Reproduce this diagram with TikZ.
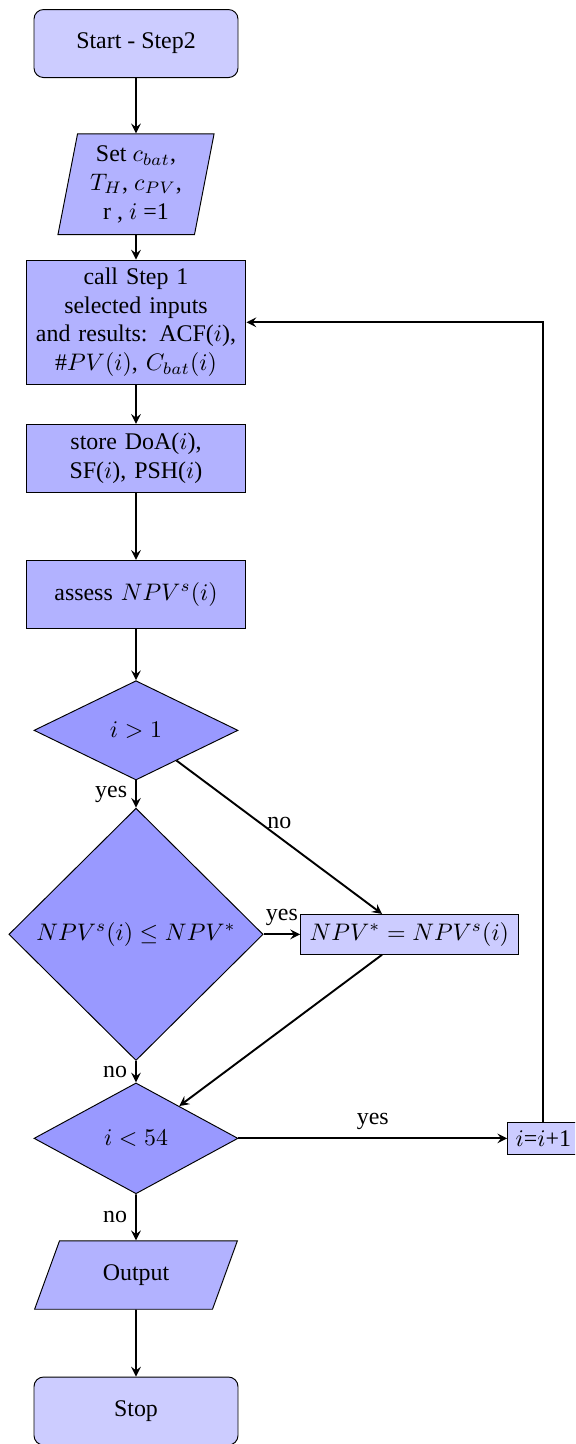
\documentclass[tikz,border=0pt]{standalone}
\usepackage{fontspec}
\setmainfont{Liberation Serif}
\usepackage{tikz}
\usetikzlibrary{shapes.geometric,arrows}

\begin{document}
\begin{tikzpicture}[
    startstop/.style={rectangle, rounded corners, minimum width=3cm, minimum height=1cm, align=center, draw=black, fill=blue!20},
    io/.style={trapezium, trapezium left angle=70, trapezium right angle=110, minimum width=3cm, minimum height=1cm, align=center, draw=black, fill=blue!30},
    process/.style={rectangle, text width=3cm, minimum height=1cm, align=center, draw=black, fill=blue!30},
    decision/.style={diamond, minimum width=3cm, minimum height=1.5cm, inner sep=0pt, align=center, draw=black, fill=blue!40},
    update/.style={rectangle, draw=black, fill=blue!20},
    arrow/.style={thick, ->, >=stealth}]
    \useasboundingbox (0, 0) rectangle (8.456, -21.235);
    \clip (0, 0) rectangle (8.456, -21.235);

    \node[startstop] (start) at (2, -0.64) {Start - Step2};
    \node[io, trapezium left angle=79, trapezium right angle=101, minimum width=2.3cm] (set) at (2, -2.71) {Set $c_{bat}$,\\ $T_H$, $c_{PV}$,\\ r , $i$ =1};
    \node[process] (call) at (2, -4.74) {call Step 1\\ selected inputs\\ and results: ACF($i$),\\ $\#PV(i)$, $C_{bat}(i)$};
    \node[process] (store) at (2, -6.74) {store DoA($i$),\\ SF($i$), PSH($i$)};
    \node[process] (assess) at (2, -8.74) {assess $NPV^s(i)$};
    \node[decision, minimum height=1.46cm] (larger) at (2, -10.74) {$i > 1$};
    \node[decision, minimum width=3.74cm, minimum height=3.71cm] (compare) at (2, -13.74) {$NPV^s(i) \leq NPV^*$};
    \node[update, minimum width=3.2cm] (best) at (6.02, -13.74) {$NPV^* = NPV^s(i)$};
    \node[decision, minimum height=1.63cm] (smaller) at (2, -16.74) {$i < 54$};
    \node[update] (next) at (7.99, -16.74) {$i$=$i$+1};
    \node[io] (output) at (2, -18.75) {Output};
    \node[startstop] (stop) at (2, -20.75) {Stop};

    \draw[arrow] (start) -- (set);
    \draw[arrow] (set) -- (call);
    \draw[arrow] (call) -- (store);
    \draw[arrow] (store) -- (assess);
    \draw[arrow] (assess) -- (larger);
    \draw[arrow] (larger) -- node[left] {yes} (compare);
    \draw[arrow] (larger) -- node[above] {no} (best);
    \draw[arrow] (compare) -- node[above] {yes} (best);
    \draw[arrow] (compare) -- node[left] {no} (smaller);
    \draw[arrow] (best) -- (smaller);
    \draw[arrow] (smaller) -- node[above] {yes} (next);
    \draw[arrow] (smaller) -- node[left] {no} (output);
    \draw[arrow] (output) -- (stop);
    \draw[arrow] (next) |- (call);
  \end{tikzpicture}
\end{document}
